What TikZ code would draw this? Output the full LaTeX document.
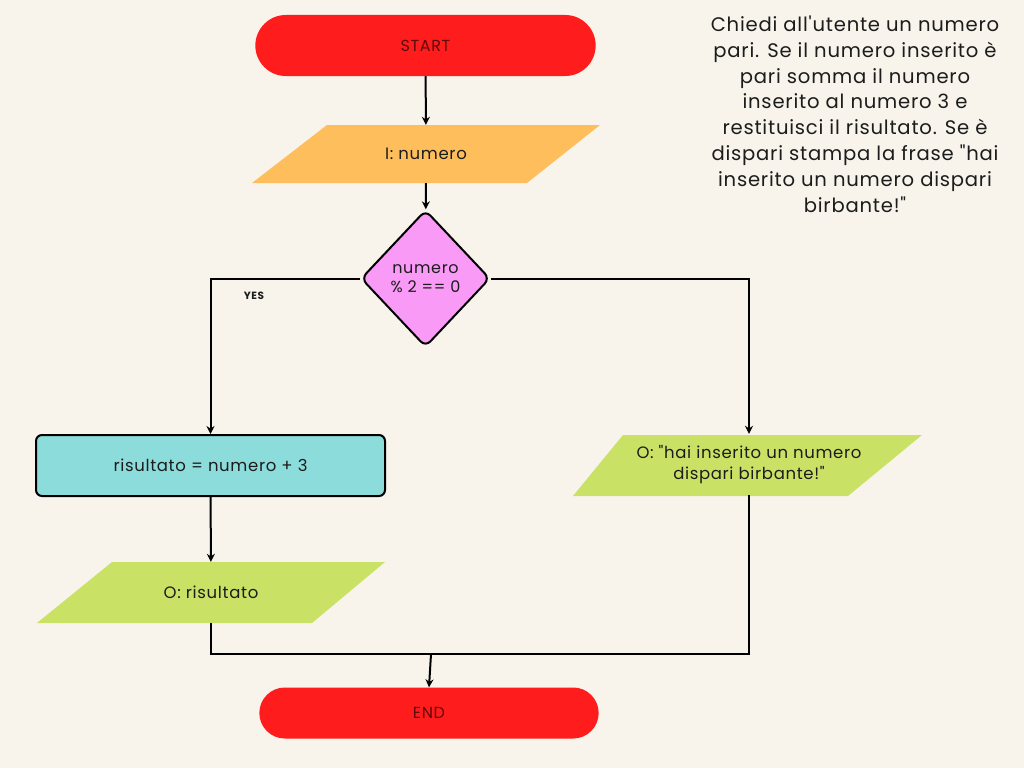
\documentclass[tikz,border=0pt]{standalone}
\usepackage{fontspec}
\newfontfamily\canva{Poppins}[LetterSpace=4]
\usetikzlibrary{shapes.geometric,shapes.misc,arrows.meta}
\definecolor{paper}{HTML}{F8F4EC}
\definecolor{stopred}{HTML}{FF1C1C}
\definecolor{stoptext}{HTML}{5E0A0A}
\definecolor{inorange}{HTML}{FDBE5B}
\definecolor{ifpink}{HTML}{FA9AF7}
\definecolor{calccyan}{HTML}{8CDCDB}
\definecolor{outlime}{HTML}{C9E265}
\definecolor{ink}{HTML}{1C1C1C}
\tikzset{
	terminal/.style={rounded rectangle,fill=stopred,text=stoptext,minimum width=347pt,minimum height=61pt,font=\canva\fontsize{16}{18}\selectfont},
	iotext/.style={minimum width=348pt,minimum height=61pt,align=center,text=ink,font=\canva\fontsize{16.5}{20.5}\selectfont},
	decision/.style={diamond,draw=black,line width=2pt,fill=ifpink,rounded corners=7pt,inner sep=0pt,minimum width=129pt,minimum height=137pt,align=center,text=ink,font=\canva\fontsize{16}{18.5}\selectfont},
	process/.style={draw=black,line width=2pt,fill=calccyan,rounded corners=6pt,minimum width=349pt,minimum height=61pt,text=ink,font=\canva\fontsize{16.5}{18}\selectfont},
	flow/.style={line width=2pt,-{Stealth[length=8pt,width=8pt]}},
	joinline/.style={line width=2pt}
}
\begin{document}
\begin{tikzpicture}[x=1pt,y=-1pt]
	\useasboundingbox (0,0) rectangle (1024,768);
	\fill [paper] (0,0) rectangle (1024,768);
	\fill [inorange] (327,125) -- (600,125) -- (527,183) -- (252,183) -- cycle;
	\fill [outlime] (112,562) -- (385,562) -- (312,623) -- (37,623) -- cycle;
	\fill [outlime] (623,435) -- (922,435) -- (848,496) -- (573,496) -- cycle;
	\node [terminal] (start) at (425.5,45.5) {START};
	\node [iotext,minimum height=58pt] (in) at (426,154) {I: numero};
	\node [decision] (test) at (425.5,278.5) {numero\\\% 2 == 0};
	\node [process] (calc) at (210.5,465.5) {risultato = numero + 3};
	\node [iotext] (outres) at (211,592.5) {O: risultato};
	\node [iotext,minimum width=349pt] (outodd) at (749,464.5) {O: "hai inserito un numero\\dispari birbante!"};
	\node [terminal,minimum width=346pt,minimum height=51pt] (end) at (429,713) {END};
	\node [text=ink,font=\canva\bfseries\fontsize{10.5}{12}\selectfont] (yes) at (254,296) {YES};
	\node [align=center,text=ink,font=\canva\fontsize{19.6}{25.8}\selectfont] (task) at (855,114) {Chiedi all'utente un numero\\pari. Se il numero inserito è\\pari somma il numero\\inserito al numero 3 e\\restituisci il risultato. Se è\\dispari stampa la frase "hai\\inserito un numero dispari\\birbante!"};
	\coordinate (merge) at (431,654);
	\draw [flow] (start) to (in);
	\draw [flow] (in) to (test);
	\draw [flow] (test.west) -| (calc.north);
	\draw [flow] (test.east) -| (outodd.north);
	\draw [flow] (calc) to (outres);
	\draw [joinline] (outres.south) |- (merge) -| (outodd.south);
	\draw [flow] (merge) to (end.north);
\end{tikzpicture}
\end{document}
